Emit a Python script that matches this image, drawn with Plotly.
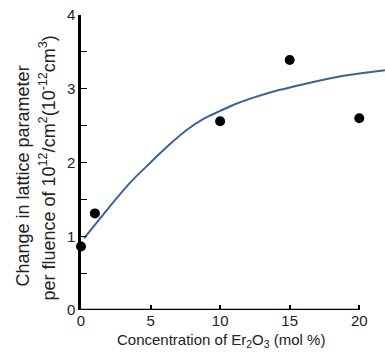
import plotly.graph_objects as go

# Measured data points
conc = [0, 1, 10, 15, 20]
change = [0.86, 1.31, 2.56, 3.39, 2.60]

# Fitted curve
fit_x = [0.22, 1.8, 3.5, 5.0, 6.4, 7.6, 8.8, 10.0, 11.2, 12.4, 13.6, 16.0, 18.4, 21.85]
fit_y = [0.97, 1.34, 1.72, 2.00, 2.25, 2.44, 2.59, 2.70, 2.80, 2.88, 2.95, 3.06, 3.16, 3.25]

x_ticks = [0, 5, 10, 15, 20]
y_ticks = [0, 1, 2, 3, 4]

FONT = "Liberation Sans, Arial, sans-serif"

fig = go.Figure()
fig.add_trace(go.Scatter(x=fit_x, y=fit_y, mode="lines",
                         line=dict(color="#3A6496", width=2, shape="spline", smoothing=1.0),
                         hoverinfo="skip", showlegend=False))
fig.add_trace(go.Scatter(x=conc, y=change, mode="markers",
                         marker=dict(color="black", size=10),
                         cliponaxis=False, showlegend=False))

# x axis line only up to 20
fig.add_shape(type="line", xref="x", yref="y", x0=0, x1=20, y0=0, y1=0,
              line=dict(color="black", width=2.5), layer="above")

fig.update_layout(
    width=385, height=354,
    margin=dict(l=81, r=0, t=15, b=44),
    plot_bgcolor="white", paper_bgcolor="white",
    font=dict(family=FONT, size=15, color="#222"),
    xaxis=dict(range=[0, 21.85], tickvals=x_ticks, ticks="inside", ticklen=5,
               tickwidth=1.5, tickcolor="black", showline=False, showgrid=False,
               zeroline=False, tickfont=dict(size=15)),
    yaxis=dict(range=[0, 4], tickvals=y_ticks, ticks="inside", ticklen=6,
               tickwidth=1, tickcolor="black", showline=True, linecolor="black",
               linewidth=2.5, showgrid=False, zeroline=False, tickfont=dict(size=15),
               minor=dict(dtick=0.5, ticks="inside", ticklen=6, tickcolor="black",
                          tickwidth=1, showgrid=False)),
    annotations=[
        dict(text="Concentration of Er<sub>2</sub>O<sub>3</sub> (mol %)",
             xref="paper", yref="paper", x=(221 - 81) / 304, y=-(340 - 310) / 295,
             xanchor="center", yanchor="middle", showarrow=False,
             font=dict(size=15)),
        dict(text="Change in lattice parameter",
             xref="paper", yref="paper", x=-(81 - 23) / 304, y=(310 - 176.5) / 295,
             xanchor="center", yanchor="middle", showarrow=False, textangle=-90,
             font=dict(size=18)),
        dict(text="per fluence of 10<sup>12</sup>/cm<sup>2</sup>(10<sup>-12</sup>cm<sup>3</sup>)",
             xref="paper", yref="paper", x=-(81 - 48) / 304, y=(310 - 168.5) / 295,
             xanchor="center", yanchor="middle", showarrow=False, textangle=-90,
             font=dict(size=18)),
    ],
)

fig.write_html("out.html", config={"displayModeBar": False},
               post_script="document.body.style.margin='0';")
